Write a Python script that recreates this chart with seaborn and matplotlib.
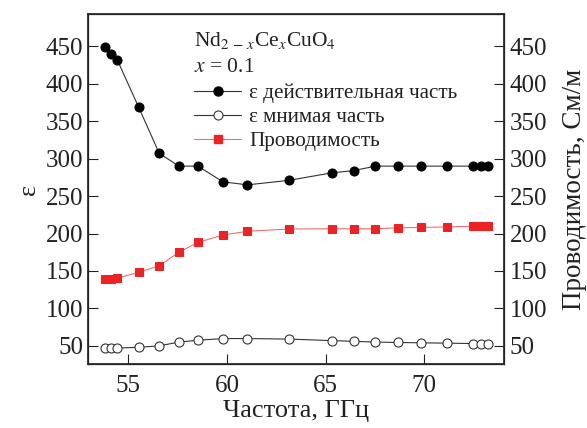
import numpy as np
import pandas as pd
import matplotlib
matplotlib.use('Agg')
import matplotlib.pyplot as plt
from matplotlib.lines import Line2D
import seaborn as sns

# Data
freq = [53.82, 54.12, 54.43, 55.51, 56.56, 57.56, 58.52, 59.79, 61.03, 63.14,
        65.30, 66.41, 67.52, 68.68, 69.84, 71.16, 72.48, 72.87, 73.24]
eps_real = [449, 440, 432, 369, 307, 290, 290, 269, 265, 271,
            281, 284, 290, 290, 290, 290, 290, 290, 290]
eps_imag = [47, 47, 47, 48, 50, 55, 57.5, 59.7, 59.7, 59,
            57, 56, 55, 54.5, 54, 53.6, 53, 53, 53]
conductivity = [139, 139.5, 140.5, 148, 157, 175, 188, 198, 203, 206,
                206.4, 206.2, 206.4, 207.6, 208.2, 208.7, 209.8, 210.2, 210.7]

sns.set_theme(style='ticks')
plt.rcParams['font.family'] = ['Liberation Serif', 'DejaVu Serif']
plt.rcParams['mathtext.fontset'] = 'stix'

fig = plt.figure(figsize=(5.87, 4.28), dpi=100)
ax = fig.add_axes([0.150, 0.150, 0.709, 0.817])
ax2 = ax.twinx()

df = pd.DataFrame({'freq': freq, 'real': eps_real, 'imag': eps_imag, 'cond': conductivity})

sns.lineplot(data=df, x='freq', y='real', ax=ax, color='#333333', lw=0.8,
             marker='o', markersize=6.5, markerfacecolor='black', markeredgecolor='black')
sns.lineplot(data=df, x='freq', y='imag', ax=ax, color='#333333', lw=0.8,
             marker='o', markersize=6.5, markerfacecolor='white', markeredgecolor='#333333',
             markeredgewidth=0.8)
sns.lineplot(data=df, x='freq', y='cond', ax=ax2, color='#f07070', lw=0.8,
             marker='s', markersize=6, markerfacecolor='#ee2222', markeredgecolor='#ee2222')

for a in (ax, ax2):
    a.set_ylim(26, 493)
    a.set_yticks([50, 100, 150, 200, 250, 300, 350, 400, 450])
    a.tick_params(direction='in', length=7, width=0.8, labelsize=18, colors='#222222')
ax.set_xlim(52.95, 74.05)
ax.set_xticks([55, 60, 65, 70])
ax.tick_params(axis='x', pad=8)
ax2.tick_params(axis='y', pad=4)

for sp in ax.spines.values():
    sp.set_linewidth(0.9)
    sp.set_color('#222222')

ax.set_xlabel('Частота, ГГц', fontsize=19, color='#222222', labelpad=2)
ax.set_ylabel('ε', fontsize=19, color='#222222', labelpad=4)
ax2.set_ylabel('Проводимость, См/м', fontsize=19.5, color='#222222', labelpad=6)
ax2.yaxis.set_label_coords(1.14, 0.5)

ax.text(0.255, 0.955, r'Nd$_{2\,-\,x}$Ce$_x$CuO$_4$', transform=ax.transAxes,
        fontsize=15.5, color='#222222', va='top')
ax.text(0.255, 0.875, r'$x$ = 0.1', transform=ax.transAxes,
        fontsize=15.5, color='#222222', va='top')

handles = [
    Line2D([], [], color='#333333', lw=0.8, marker='o', markersize=6.5,
           markerfacecolor='black', markeredgecolor='black'),
    Line2D([], [], color='#333333', lw=0.8, marker='o', markersize=6.5,
           markerfacecolor='white', markeredgecolor='#333333', markeredgewidth=0.8),
    Line2D([], [], color='#f07070', lw=0.8, marker='s', markersize=6,
           markerfacecolor='#ee2222', markeredgecolor='#ee2222'),
]
labels = ['ε действительная часть', 'ε мнимая часть', 'Проводимость']
ax2.legend(handles, labels, loc='upper left', bbox_to_anchor=(0.235, 0.826),
           frameon=False, fontsize=15.2, handlelength=2.2, handletextpad=0.4,
           labelspacing=0.2, borderaxespad=0, labelcolor='#222222')

fig.savefig('out.png', dpi=100)
